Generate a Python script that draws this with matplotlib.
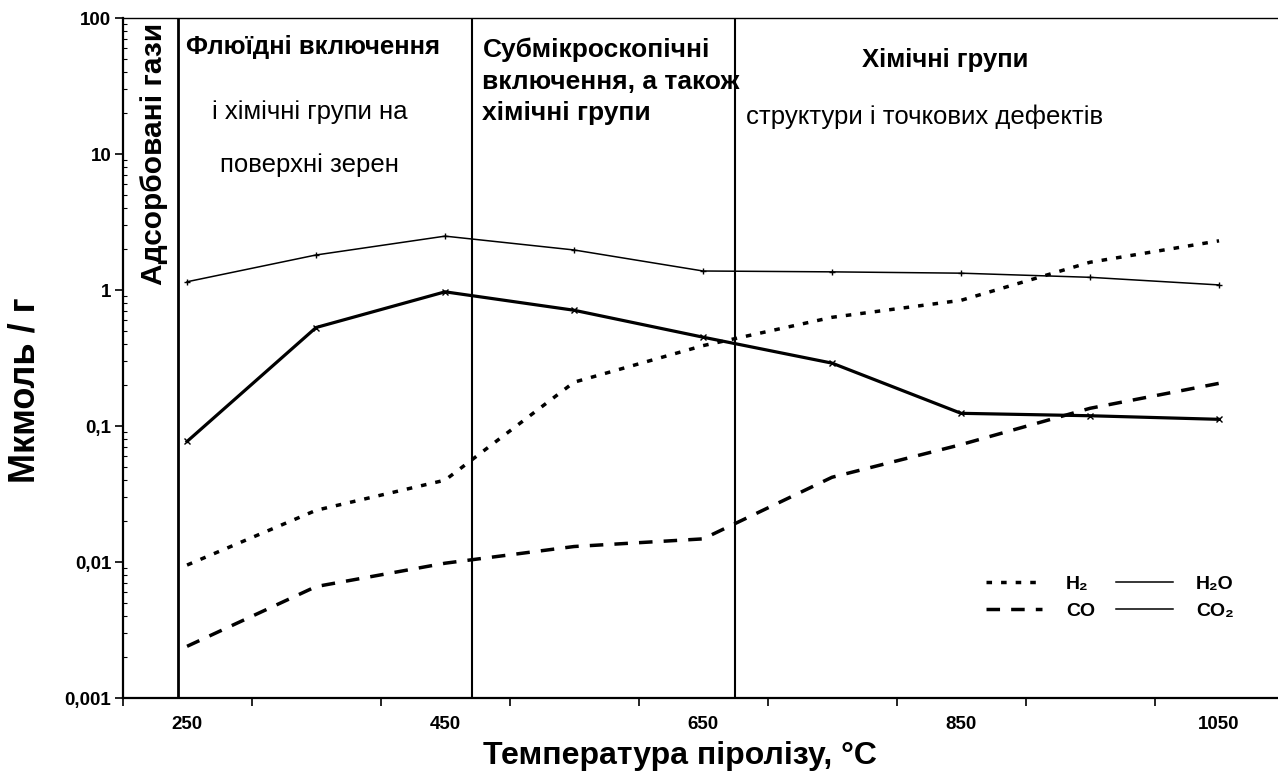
"""
plot.py - gas release vs pyrolysis temperature
"""

import matplotlib
matplotlib.use("Agg")
import matplotlib.pyplot as plt
from matplotlib.lines import Line2D
from matplotlib.ticker import FixedLocator, FixedFormatter, LogLocator, NullFormatter

plt.rcParams["font.family"] = ["Liberation Sans", "DejaVu Sans"]

# data
temps = [250, 350, 450, 550, 650, 750, 850, 950, 1050]
h2 = [0.0095, 0.024, 0.040, 0.21, 0.39, 0.63, 0.84, 1.6, 2.3]
h2o = [1.15, 1.81, 2.49, 1.97, 1.38, 1.36, 1.33, 1.24, 1.09]
co = [0.0024, 0.0066, 0.0098, 0.013, 0.0148, 0.042, 0.073, 0.135, 0.206]
co2 = [0.077, 0.53, 0.97, 0.71, 0.45, 0.29, 0.124, 0.119, 0.112]

# borders between release stages
borders = [243, 471, 675]

x_labels = [250, 450, 650, 850, 1050]
x_ticks = [200, 300, 400, 500, 600, 700, 800, 900, 1000]
y_ticks = [0.001, 0.01, 0.1, 1, 10, 100]
y_labels = ["0,001", "0,01", "0,1", "1", "10", "100"]

fig = plt.figure(figsize=(12.78, 7.80), dpi=100)
ax = fig.add_axes([0.0959, 0.1051, 0.9041, 0.8718])

ax.set_yscale("log")
ax.set_xlim(200, 1095.7)
ax.set_ylim(0.001, 100)

ax.axvline(borders[0], color="black", linewidth=2.0)
ax.axvline(borders[1], color="black", linewidth=1.5)
ax.axvline(borders[2], color="black", linewidth=1.5)

ax.plot(temps, h2, color="black", linewidth=2.5,
        linestyle=(0, (1.6, 2.6)))
ax.plot(temps, co, color="black", linewidth=2.5,
        linestyle=(0, (3.9, 3.2)))
ax.plot(temps, h2o, color="black", linewidth=1.1,
        marker="+", markersize=5, markeredgewidth=1)
ax.plot(temps, co2, color="black", linewidth=2.3,
        marker="x", markersize=4, markeredgewidth=1)

# axes styling
ax.spines["right"].set_visible(False)
for s in ["left", "bottom"]:
    ax.spines[s].set_linewidth(1.6)
ax.spines["top"].set_linewidth(1.0)

ax.xaxis.set_major_locator(FixedLocator(x_labels))
ax.xaxis.set_major_formatter(FixedFormatter([str(v) for v in x_labels]))
ax.xaxis.set_minor_locator(FixedLocator(x_ticks))
ax.tick_params(axis="x", which="major", length=0, pad=13,
               labelsize=13.5)
ax.tick_params(axis="x", which="minor", length=6, width=1.2,
               direction="out")

ax.yaxis.set_major_locator(FixedLocator(y_ticks))
ax.yaxis.set_major_formatter(FixedFormatter(y_labels))
ax.yaxis.set_minor_locator(LogLocator(base=10, subs=range(2, 10)))
ax.yaxis.set_minor_formatter(NullFormatter())
ax.tick_params(axis="y", which="major", length=6, width=1.2,
               direction="out", pad=2, labelsize=13.5)
ax.tick_params(axis="y", which="minor", length=3, width=0.8,
               direction="in")

for lab in ax.get_xticklabels() + ax.get_yticklabels():
    lab.set_fontweight("bold")

ax.set_xlabel("Температура піролізу, °С", fontsize=23,
              fontweight="bold")
ax.xaxis.set_label_coords(0.4825, -0.063)
ax.set_ylabel("Мкмоль / г", fontsize=26, fontweight="bold")
ax.yaxis.set_label_coords(-0.0697, 0.453)

# stage captions
ax.text(224, 93, "Адсорбовані гази", rotation=90, ha="center",
        va="top", fontsize=21.5, fontweight="bold")

ax.text(348, 61, "Флюїдні включення", ha="center", va="center",
        fontsize=18.5, fontweight="bold")
ax.text(345, 20.4, "і хімічні групи на", ha="center", va="center",
        fontsize=18.5)
ax.text(345, 8.3, "поверхні зерен", ha="center", va="center",
        fontsize=18.5)

ax.text(479, 72, "Субмікроскопічні\nвключення, а також\nхімічні групи",
        ha="left", va="top", fontsize=19, fontweight="bold",
        linespacing=1.4)

ax.text(838, 49, "Хімічні групи", ha="center", va="center",
        fontsize=18.5, fontweight="bold")
ax.text(822, 18.7, "структури і точкових дефектів", ha="center",
        va="center", fontsize=18.5)

# legend
handles = [
    Line2D([], [], color="black", linewidth=2.5, linestyle=(0, (1.6, 2.6))),
    Line2D([], [], color="black", linewidth=2.5, linestyle=(0, (3.9, 3.2))),
    Line2D([], [], color="black", linewidth=1.1),
    Line2D([], [], color="black", linewidth=1.1),
]
names = ["H₂", "CO", "H₂O", "CO₂"]

leg = ax.legend(handles, names, ncol=2, frameon=False,
                loc="center", bbox_to_anchor=(0.8685, 0.234),
                bbox_transform=fig.transFigure,
                prop={"size": 14, "weight": "bold"},
                handlelength=2.9, handletextpad=1.2,
                columnspacing=1.1, labelspacing=0.5)

fig.savefig("out.png", dpi=100)
